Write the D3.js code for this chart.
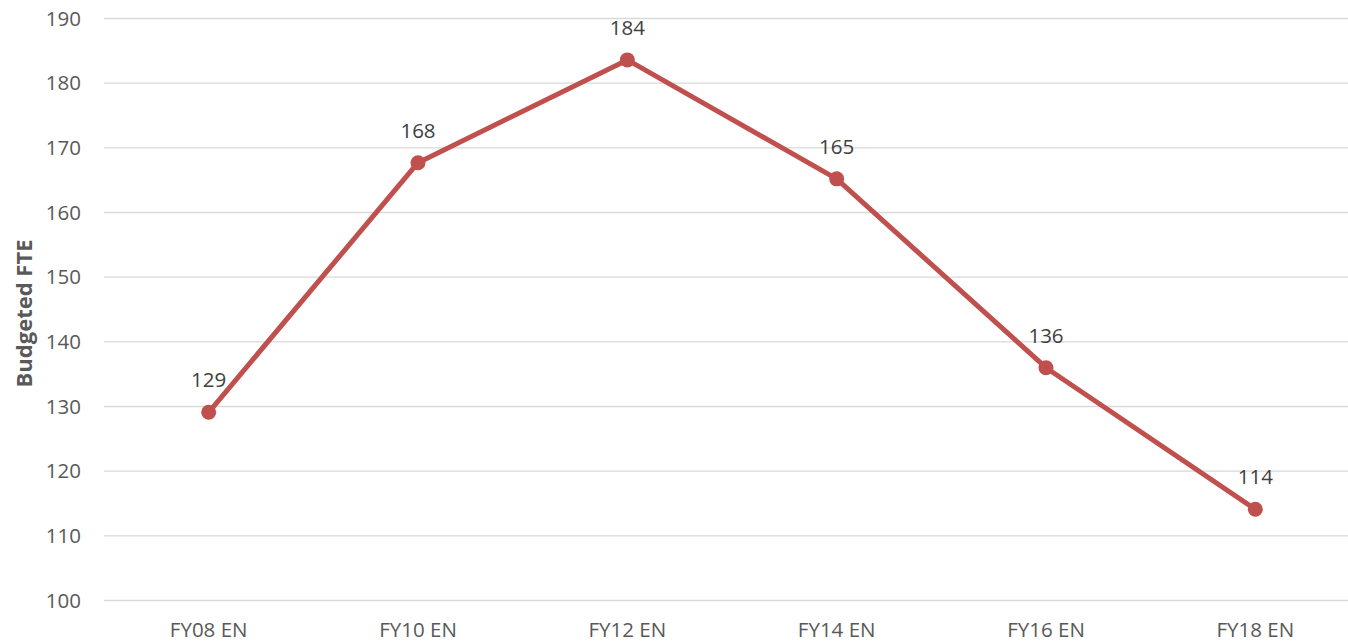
<!DOCTYPE html>
<html>
<head>
<meta charset="utf-8">
<script src="https://cdn.jsdelivr.net/npm/d3@7"></script>
<style>
  body { margin: 0; background: #fff; }
  svg { display: block; font-family: "Open Sans", "Noto Sans", sans-serif; }
</style>
</head>
<body>
<svg id="chart" width="1348" height="642"></svg>
<script>
// Chart data
const categories = ["FY08 EN", "FY10 EN", "FY12 EN", "FY14 EN", "FY16 EN", "FY18 EN"];
const fteValues = [129.1, 167.7, 183.6, 165.2, 136.0, 114.1];
const yTicks = [100, 110, 120, 130, 140, 150, 160, 170, 180, 190];

const svg = d3.select("#chart");
const fontSize = 20.5;

// Plot area (right edge runs past the picture, as in the reference)
const plot = { left: 104, right: 1360, top: 18.5, bottom: 600.5 };

const x = d3.scaleBand()
    .domain(categories)
    .range([plot.left, plot.right])
    .padding(0);

const y = d3.scaleLinear()
    .domain([100, 190])
    .range([plot.bottom, plot.top]);

// Gridlines
svg.append("g")
    .selectAll("line")
    .data(yTicks)
    .join("line")
    .attr("x1", plot.left)
    .attr("x2", plot.right)
    .attr("y1", d => y(d))
    .attr("y2", d => y(d))
    .attr("stroke", "#d9d9d9")
    .attr("stroke-width", 1.3);

// Y axis labels
const yAxis = svg.append("g")
    .attr("transform", `translate(${plot.left - 23},0)`)
    .call(d3.axisLeft(y).tickValues(yTicks).tickSize(0).tickPadding(0));
yAxis.select(".domain").remove();
yAxis.selectAll("text")
    .attr("fill", "#595959")
    .attr("font-size", fontSize)
    .attr("font-family", "'Open Sans', sans-serif");

// X axis labels
const xAxis = svg.append("g")
    .attr("transform", `translate(0,${plot.bottom + 21.5})`)
    .call(d3.axisBottom(x).tickSize(0).tickPadding(0));
xAxis.select(".domain").remove();
xAxis.selectAll("text")
    .attr("fill", "#595959")
    .attr("font-size", fontSize)
    .attr("font-family", "'Open Sans', sans-serif");

// Y axis title
svg.append("text")
    .attr("transform", `translate(32, ${(plot.top + plot.bottom) / 2 + 4}) rotate(-90)`)
    .attr("text-anchor", "middle")
    .attr("fill", "#595959")
    .attr("font-size", 22)
    .attr("font-weight", "bold")
    .text("Budgeted FTE");

const cx = d => x(d) + x.bandwidth() / 2;
const points = categories.map((c, i) => ({ cat: c, value: fteValues[i] }));

// Line
const line = d3.line()
    .x(d => cx(d.cat))
    .y(d => y(d.value));

svg.append("path")
    .datum(points)
    .attr("d", line)
    .attr("fill", "none")
    .attr("stroke", "#c0504d")
    .attr("stroke-width", 5)
    .attr("stroke-linejoin", "round");

// Markers
svg.append("g")
    .selectAll("circle")
    .data(points)
    .join("circle")
    .attr("cx", d => cx(d.cat))
    .attr("cy", d => y(d.value))
    .attr("r", 7.5)
    .attr("fill", "#c0504d");

// Data labels
svg.append("g")
    .selectAll("text")
    .data(points)
    .join("text")
    .attr("x", d => cx(d.cat))
    .attr("y", d => y(d.value) - 25)
    .attr("text-anchor", "middle")
    .attr("fill", "#404040")
    .attr("font-size", fontSize)
    .text(d => d3.format(".0f")(d.value));
</script>
</body>
</html>
